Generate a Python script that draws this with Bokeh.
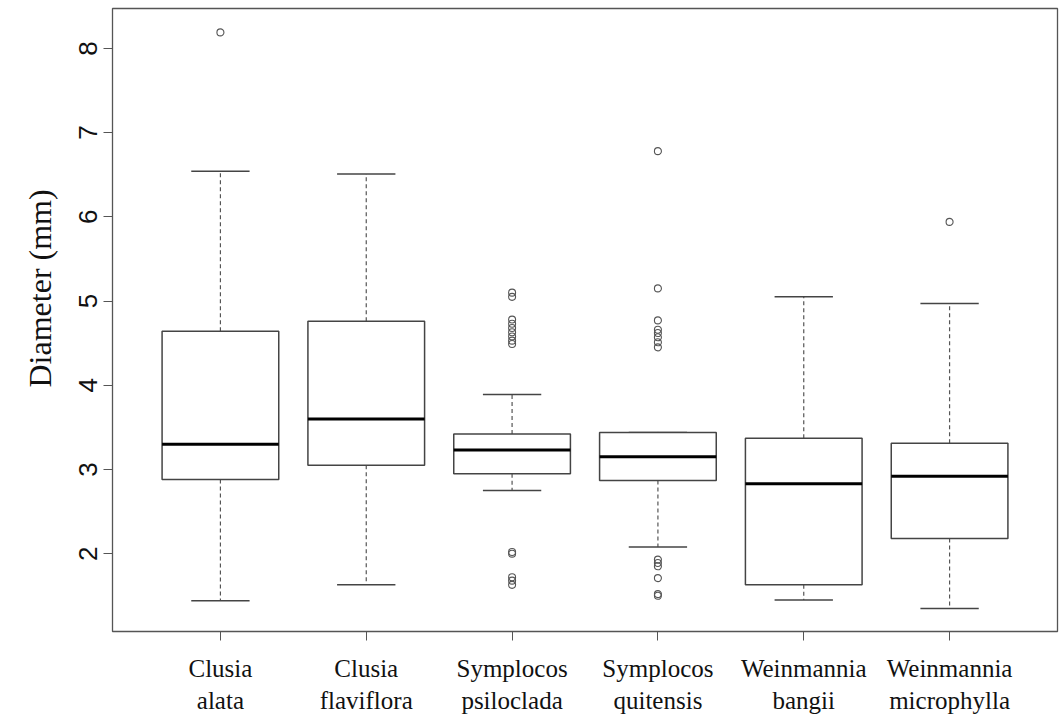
from bokeh.plotting import figure
from bokeh.models import Range1d, LinearAxis, FixedTicker, Title
from bokeh.embed import file_html
from bokeh.resources import INLINE

# Stem diameter summaries per species (mm)
species = ["Clusia\nalata", "Clusia\nflaviflora", "Symplocos\npsiloclada",
           "Symplocos\nquitensis", "Weinmannia\nbangii", "Weinmannia\nmicrophylla"]
lower_whisker = [1.44, 1.63, 2.75, 2.08, 1.45, 1.35]
q1 = [2.88, 3.05, 2.95, 2.87, 1.63, 2.18]
median = [3.30, 3.60, 3.23, 3.15, 2.83, 2.92]
q3 = [4.64, 4.76, 3.42, 3.44, 3.37, 3.31]
upper_whisker = [6.54, 6.51, 3.89, 3.44, 5.05, 4.97]
outliers = [
    [8.19],
    [],
    [5.10, 5.05, 4.78, 4.73, 4.68, 4.63, 4.58, 4.53, 4.49, 2.02, 2.00, 1.72, 1.68, 1.63],
    [6.78, 5.15, 4.77, 4.66, 4.62, 4.57, 4.51, 4.45, 1.93, 1.89, 1.85, 1.71, 1.52, 1.50],
    [],
    [5.94],
]
y_ticks = [2, 3, 4, 5, 6, 7, 8]
y_title = "Diameter (mm)"

xs = [i + 1 for i in range(len(species))]
half_box = 0.4
half_cap = 0.2

p = figure(width=1059, height=722, output_backend="svg", toolbar_location=None,
           x_range=Range1d(0.26, 6.74), y_range=Range1d(1.076, 8.474),
           min_border_left=112, min_border_right=2, min_border_top=8,
           min_border_bottom=91, x_axis_location=None, y_axis_location=None)
p.grid.visible = False
p.outline_line_color = "#555555"
p.outline_line_width = 1.3
p.background_fill_color = "white"
p.border_fill_color = "white"

box_color = "#444444"

# whiskers
p.segment(x0=xs, y0=q3, x1=xs, y1=upper_whisker, line_color="#555555",
          line_width=1.2, line_dash="4 3")
p.segment(x0=xs, y0=q1, x1=xs, y1=lower_whisker, line_color="#555555",
          line_width=1.2, line_dash="4 3")
# whisker caps
p.segment(x0=[x - half_cap for x in xs], y0=upper_whisker,
          x1=[x + half_cap for x in xs], y1=upper_whisker,
          line_color=box_color, line_width=1.5)
p.segment(x0=[x - half_cap for x in xs], y0=lower_whisker,
          x1=[x + half_cap for x in xs], y1=lower_whisker,
          line_color=box_color, line_width=1.5)
# boxes
p.quad(left=[x - half_box for x in xs], right=[x + half_box for x in xs],
       bottom=q1, top=q3, fill_color="white", line_color=box_color, line_width=1.5)
# medians
p.segment(x0=[x - half_box for x in xs], y0=median,
          x1=[x + half_box for x in xs], y1=median,
          line_color="black", line_width=3)
# outliers
ox = [xs[i] for i, vals in enumerate(outliers) for _ in vals]
oy = [v for vals in outliers for v in vals]
p.scatter(ox, oy, marker="circle", size=7, fill_color=None,
          line_color="#555555", line_width=1.1)

# y axis
yaxis = LinearAxis(ticker=FixedTicker(ticks=y_ticks))
yaxis.axis_line_color = None
yaxis.major_tick_out = 9
yaxis.major_tick_in = 0
yaxis.major_tick_line_color = "#555555"
yaxis.minor_tick_line_color = None
yaxis.major_label_orientation = "vertical"
yaxis.major_label_text_font = "Liberation Sans"
yaxis.major_label_text_font_size = "26px"
yaxis.major_label_text_color = "#111111"
yaxis.major_label_standoff = 6
p.add_layout(yaxis, "left")

# y title, set a little above the frame's middle
p.add_layout(Title(text=y_title, align="left", offset=244,
                   text_font="Liberation Serif", text_font_size="32px",
                   text_font_style="normal", text_color="#111111",
                   standoff=38), "left")

# x axis with species names
xaxis = LinearAxis(ticker=FixedTicker(ticks=xs))
xaxis.major_label_overrides = {x: s for x, s in zip(xs, species)}
xaxis.axis_line_color = None
xaxis.major_tick_out = 9
xaxis.major_tick_in = 0
xaxis.major_tick_line_color = "#555555"
xaxis.minor_tick_line_color = None
xaxis.major_label_text_font = "Liberation Serif"
xaxis.major_label_text_font_size = "25px"
xaxis.major_label_text_color = "#111111"
xaxis.major_label_standoff = 14
xaxis.major_label_text_line_height = 1.2
p.add_layout(xaxis, "below")

open("out.html", "w").write(file_html(p, INLINE))
